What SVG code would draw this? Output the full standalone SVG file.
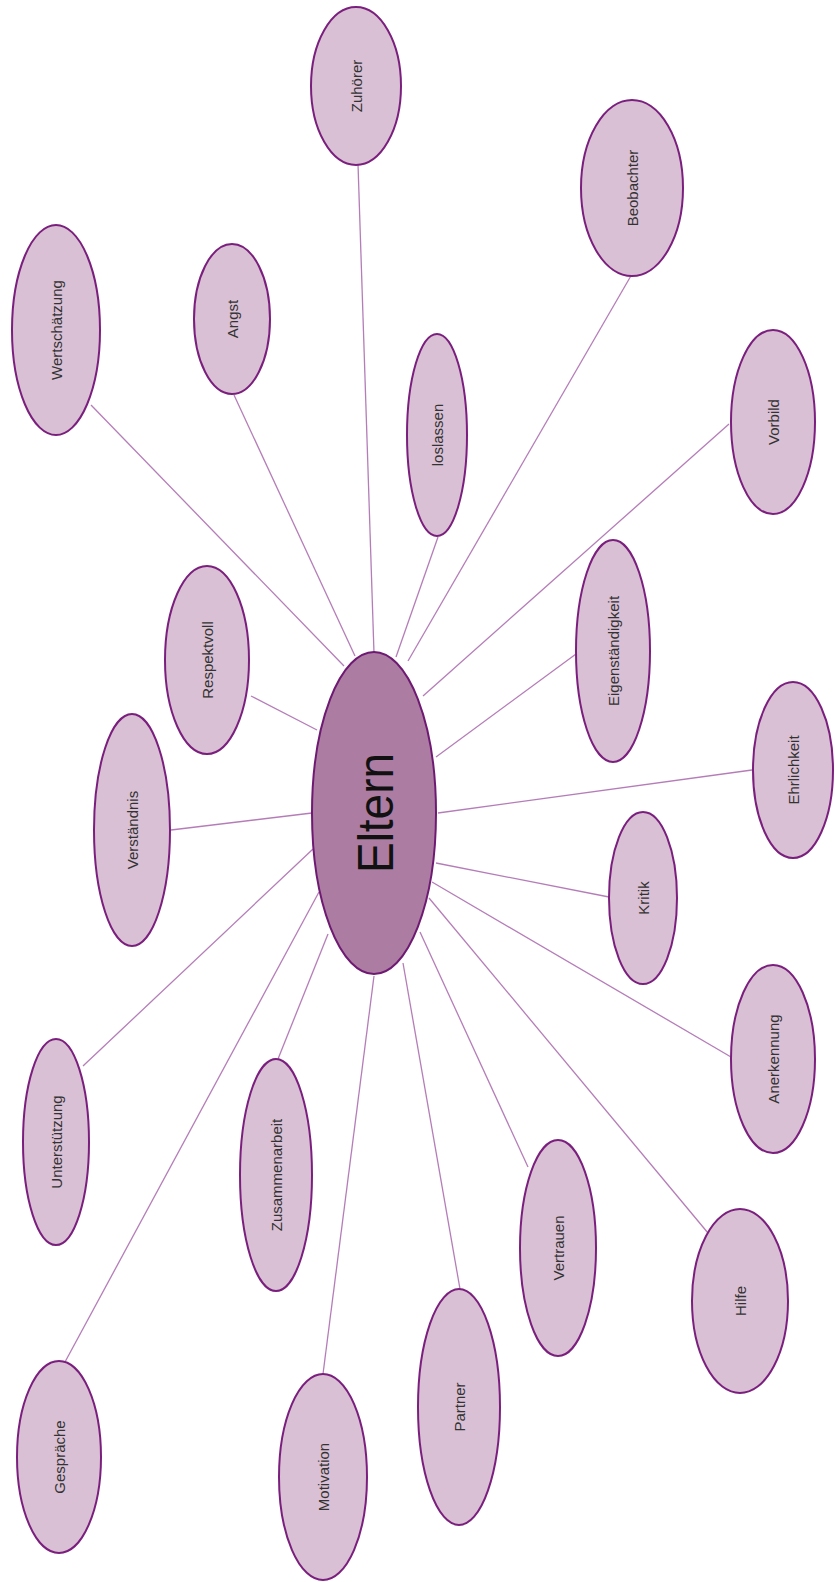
<svg xmlns="http://www.w3.org/2000/svg" width="835" height="1582" viewBox="0 0 835 1582">
<style>
.n ellipse{fill:#D9C0D4;stroke:#7B1F7E;stroke-width:2}
.c ellipse{fill:#AD7CA2;stroke:#6E1A72;stroke-width:2}
.n text{font-family:"Liberation Sans",Arial,sans-serif;font-size:15px;fill:#333;text-anchor:middle;dominant-baseline:central}
.c text{font-family:"Liberation Sans",Arial,sans-serif;font-size:50px;fill:#111;text-anchor:middle;dominant-baseline:central}
#links line{stroke:#B57DB8;stroke-width:1.3}
</style>
<rect width="835" height="1582" fill="#fff"/>
<g id="links">
<line x1="358" y1="164" x2="374" y2="653"/>
<line x1="632" y1="274" x2="408" y2="661"/>
<line x1="91" y1="405" x2="344" y2="666"/>
<line x1="234" y1="395" x2="355" y2="656"/>
<line x1="438" y1="537" x2="396" y2="657"/>
<line x1="729" y1="424" x2="423" y2="696"/>
<line x1="576" y1="654" x2="436" y2="757"/>
<line x1="251" y1="696" x2="317" y2="730"/>
<line x1="752" y1="770" x2="438" y2="813"/>
<line x1="171" y1="830" x2="312" y2="813"/>
<line x1="609" y1="897" x2="436" y2="863"/>
<line x1="731" y1="1057" x2="432" y2="882"/>
<line x1="83" y1="1066" x2="313" y2="849"/>
<line x1="278" y1="1059" x2="328" y2="934"/>
<line x1="528" y1="1167" x2="420" y2="932"/>
<line x1="708" y1="1233" x2="429" y2="898"/>
<line x1="65" y1="1362" x2="319" y2="892"/>
<line x1="323" y1="1374" x2="374" y2="976"/>
<line x1="460" y1="1289" x2="403" y2="963"/>
</g>
<g id="eltern" class="c"><ellipse cx="374" cy="813" rx="62" ry="161"/><text transform="translate(376,813) rotate(-90)" textLength="120" lengthAdjust="spacingAndGlyphs">Eltern</text></g>
<g id="zuhoerer" class="n"><ellipse cx="356" cy="86" rx="45" ry="79"/><text transform="translate(356,86) rotate(-90)">Zuhörer</text></g>
<g id="beobachter" class="n"><ellipse cx="632" cy="188" rx="51" ry="88"/><text transform="translate(632,188) rotate(-90)">Beobachter</text></g>
<g id="wertschaetzung" class="n"><ellipse cx="56" cy="330" rx="44" ry="105"/><text transform="translate(56,330) rotate(-90)">Wertschätzung</text></g>
<g id="angst" class="n"><ellipse cx="232" cy="319" rx="38" ry="75"/><text transform="translate(232,319) rotate(-90)">Angst</text></g>
<g id="loslassen" class="n"><ellipse cx="437" cy="435" rx="30" ry="101"/><text transform="translate(437,435) rotate(-90)">loslassen</text></g>
<g id="vorbild" class="n"><ellipse cx="773" cy="422" rx="42" ry="92"/><text transform="translate(773,422) rotate(-90)">Vorbild</text></g>
<g id="eigenstaendigkeit" class="n"><ellipse cx="613" cy="651" rx="37" ry="111"/><text transform="translate(613,651) rotate(-90)">Eigenständigkeit</text></g>
<g id="respektvoll" class="n"><ellipse cx="207" cy="660" rx="42" ry="94"/><text transform="translate(207,660) rotate(-90)">Respektvoll</text></g>
<g id="ehrlichkeit" class="n"><ellipse cx="793" cy="770" rx="40" ry="88"/><text transform="translate(793,770) rotate(-90)">Ehrlichkeit</text></g>
<g id="verstaendnis" class="n"><ellipse cx="132" cy="830" rx="38" ry="116"/><text transform="translate(132,830) rotate(-90)">Verständnis</text></g>
<g id="kritik" class="n"><ellipse cx="643" cy="898" rx="34" ry="86"/><text transform="translate(643,898) rotate(-90)">Kritik</text></g>
<g id="anerkennung" class="n"><ellipse cx="773" cy="1059" rx="42" ry="94"/><text transform="translate(773,1059) rotate(-90)">Anerkennung</text></g>
<g id="unterstuetzung" class="n"><ellipse cx="56" cy="1142" rx="33" ry="103"/><text transform="translate(56,1142) rotate(-90)">Unterstützung</text></g>
<g id="zusammenarbeit" class="n"><ellipse cx="276" cy="1175" rx="36" ry="116"/><text transform="translate(276,1175) rotate(-90)">Zusammenarbeit</text></g>
<g id="vertrauen" class="n"><ellipse cx="558" cy="1248" rx="38" ry="108"/><text transform="translate(558,1248) rotate(-90)">Vertrauen</text></g>
<g id="hilfe" class="n"><ellipse cx="740" cy="1301" rx="48" ry="92"/><text transform="translate(740,1301) rotate(-90)">Hilfe</text></g>
<g id="gespraeche" class="n"><ellipse cx="59" cy="1457" rx="42" ry="96"/><text transform="translate(59,1457) rotate(-90)">Gespräche</text></g>
<g id="motivation" class="n"><ellipse cx="323" cy="1477" rx="44" ry="103"/><text transform="translate(323,1477) rotate(-90)">Motivation</text></g>
<g id="partner" class="n"><ellipse cx="459" cy="1407" rx="41" ry="118"/><text transform="translate(459,1407) rotate(-90)">Partner</text></g>
</svg>
